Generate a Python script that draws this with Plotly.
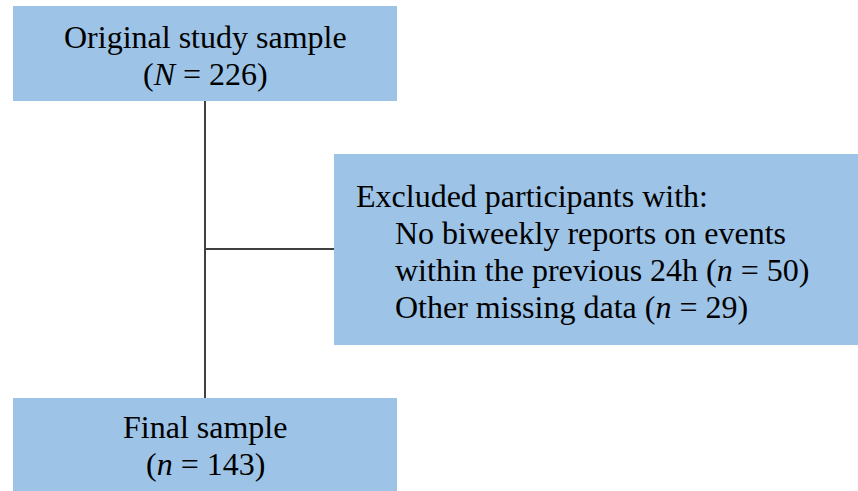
import plotly.graph_objects as go

# ---- content ----
top_lines = ["Original study sample", "(<i>N</i> = 226)"]
excl_header = "Excluded participants with:"
excl_items = ["No biweekly reports on events",
              "within the previous 24h (<i>n</i> = 50)",
              "Other missing data (<i>n</i> = 29)"]
final_lines = ["Final sample", "(<i>n</i> = 143)"]

W, H = 858, 491
BOX = "#9DC3E6"
LINE = "#404040"
FS = 32
FONT = dict(family="Times New Roman", size=FS, color="black")

fig = go.Figure()
fig.add_trace(go.Scatter(x=[0, W], y=[0, H], mode="markers", marker=dict(opacity=0),
                         hoverinfo="skip", showlegend=False))

shapes = [
    dict(type="rect", x0=13, x1=397, y0=6, y1=101, fillcolor=BOX, line=dict(width=0)),
    dict(type="rect", x0=334, x1=858, y0=154, y1=345, fillcolor=BOX, line=dict(width=0)),
    dict(type="rect", x0=13, x1=397, y0=398, y1=491, fillcolor=BOX, line=dict(width=0)),
    dict(type="line", x0=205, x1=205, y0=101, y1=398, line=dict(color=LINE, width=2)),
    dict(type="line", x0=205, x1=334, y0=249, y1=249, line=dict(color=LINE, width=2)),
]
for s in shapes:
    s.update(xref="x", yref="y", layer="below")
fig.update_layout(shapes=shapes)

def baseline_to_mid(b, size=FS):
    return b - 0.3375 * size

annots = []
for txt, b in zip(top_lines, [48, 85]):
    annots.append(dict(text=txt, x=205, y=baseline_to_mid(b), xanchor="center", yanchor="middle"))
annots.append(dict(text=excl_header, x=355, y=baseline_to_mid(207), xanchor="left", yanchor="middle"))
for txt, b in zip(excl_items, [244, 281, 318]):
    annots.append(dict(text=txt, x=394, y=baseline_to_mid(b), xanchor="left", yanchor="middle"))
for txt, b in zip(final_lines, [438, 475]):
    annots.append(dict(text=txt, x=205, y=baseline_to_mid(b), xanchor="center", yanchor="middle"))
for a in annots:
    a.update(xref="x", yref="y", showarrow=False, font=FONT, borderpad=0)
fig.update_layout(annotations=annots)

fig.update_xaxes(range=[0, W], visible=False, fixedrange=True)
fig.update_yaxes(range=[H, 0], visible=False, fixedrange=True)
fig.update_layout(width=W, height=H, margin=dict(l=0, r=0, t=0, b=0),
                  paper_bgcolor="white", plot_bgcolor="white")

fig.write_html("out.html", config={"displayModeBar": False},
               post_script="document.body.style.margin='0';document.body.style.overflow='hidden';")
